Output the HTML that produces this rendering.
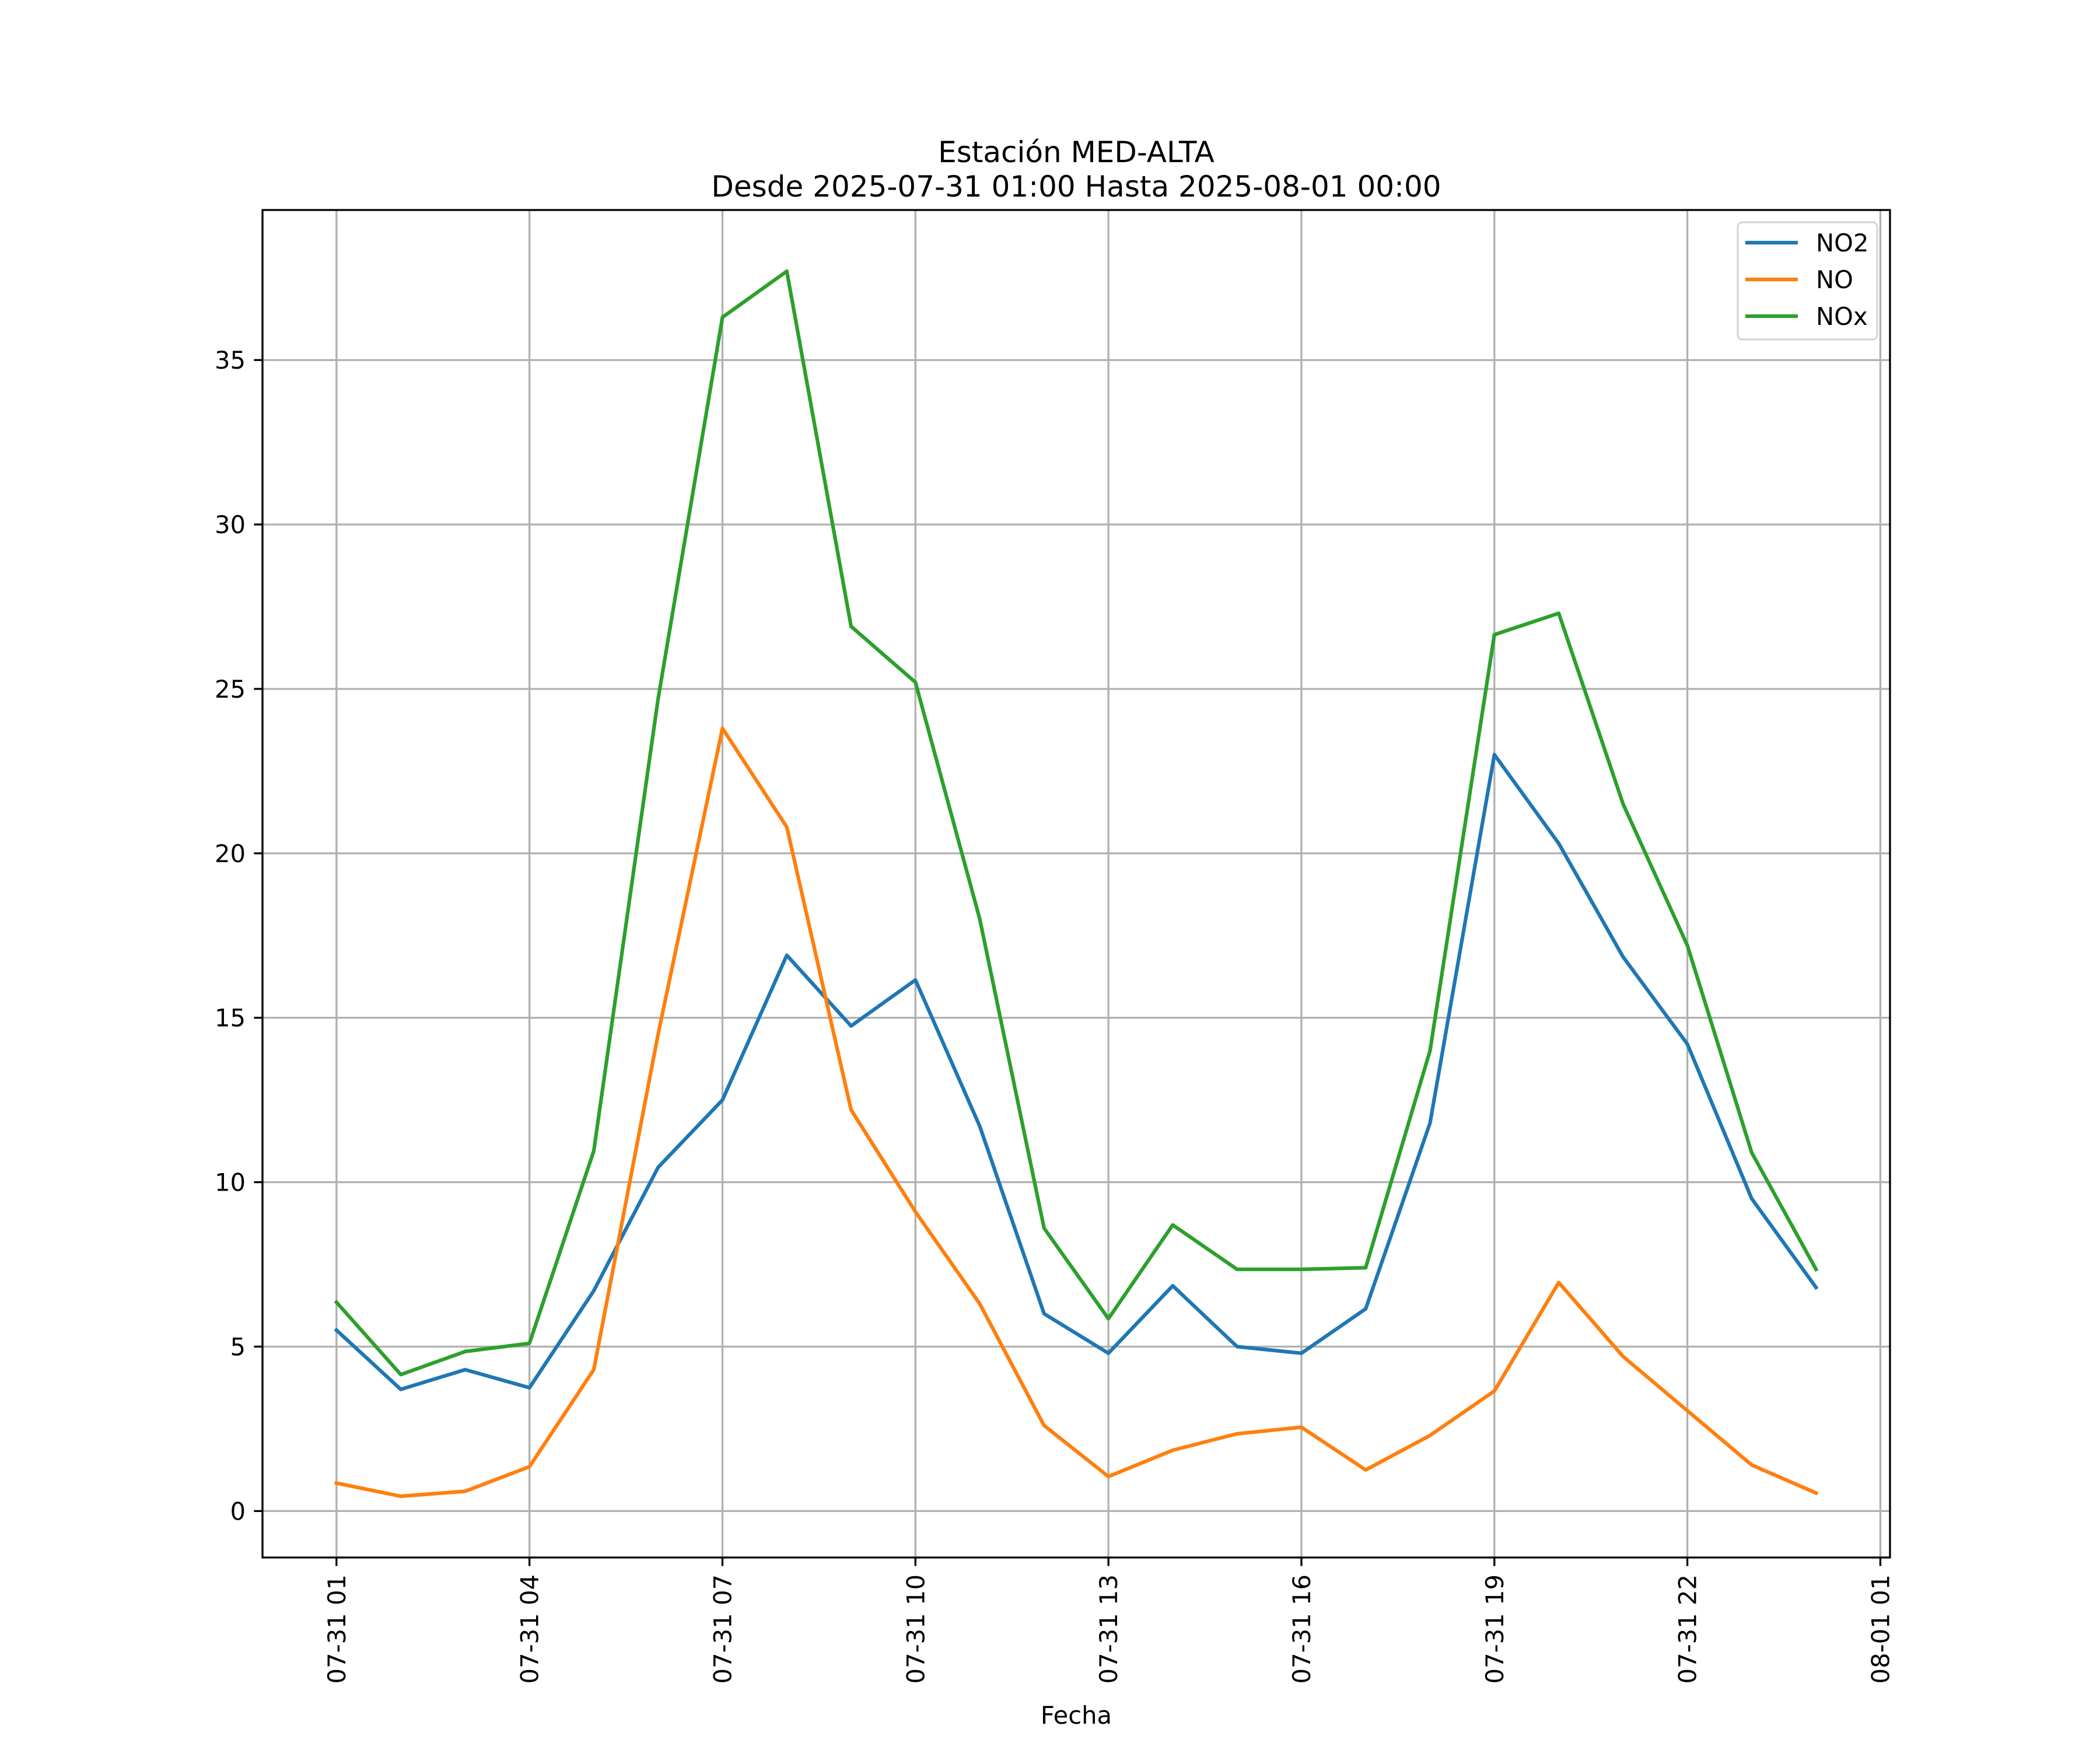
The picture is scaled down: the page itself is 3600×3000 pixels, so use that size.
<!DOCTYPE html>
<html><head><meta charset="utf-8"><style>
html,body{margin:0;padding:0;background:#fff}
svg{display:block;font-family:"DejaVu Sans","Liberation Sans",sans-serif}
</style></head><body>
<svg id="chart" width="3600" height="3000" viewBox="0 0 3600 3000">
<rect width="3600" height="3000" fill="#fff"/>
<g id="grid"></g><g id="series"></g><g id="axes"></g>
</svg>
<script>
const hours = [1,2,3,4,5,6,7,8,9,10,11,12,13,14,15,16,17,18,19,20,21,22,23,24];
const no2 = [5.5,3.7,4.3,3.75,6.7,10.45,12.5,16.9,14.75,16.15,11.7,6.0,4.8,6.85,5.0,4.8,6.15,11.8,23.0,20.3,16.85,14.2,9.5,6.8];
const no = [0.85,0.45,0.6,1.35,4.3,14.5,23.8,20.8,12.2,9.1,6.3,2.6,1.05,1.85,2.35,2.55,1.25,2.3,3.65,6.95,4.7,3.05,1.4,0.55];
const nox = [6.35,4.15,4.85,5.1,10.95,24.7,36.3,37.7,26.9,25.2,18.0,8.6,5.85,8.7,7.35,7.35,7.4,14.0,26.65,27.3,21.5,17.2,10.9,7.35];
const seriesNames = ["NO2","NO","NOx"];
const seriesColors = ["#1f77b4","#ff7f0e","#2ca02c"];
const xTickHours = [1,4,7,10,13,16,19,22,25];
const xTickLabels = ["07-31 01","07-31 04","07-31 07","07-31 10","07-31 13","07-31 16","07-31 19","07-31 22","08-01 01"];
const yTicks = [0,5,10,15,20,25,30,35];

const NS="http://www.w3.org/2000/svg";
const L=450,R=3240,T=360,B=2670;
const allV=no2.concat(no,nox);
const vmin=Math.min(...allV), vmax=Math.max(...allV), vr=vmax-vmin;
const y0=vmin-0.05*vr, y1=vmax+0.05*vr;
const hmin=Math.min(...hours), hmax=Math.max(...hours), hr=hmax-hmin;
const x0=hmin-0.05*hr, x1=hmax+0.05*hr;
const sx=h=>L+(h-x0)/(x1-x0)*(R-L);
const sy=v=>B-(v-y0)/(y1-y0)*(B-T);
function mk(tag,attrs,parent,text){const e=document.createElementNS(NS,tag);for(const k in attrs)e.setAttribute(k,attrs[k]);if(text!==undefined)e.textContent=text;parent.appendChild(e);return e;}
const grid=document.getElementById('grid'),ser=document.getElementById('series'),ax=document.getElementById('axes');

xTickHours.forEach((h,i)=>{
  const x=sx(h);
  const g=mk('line',{x1:x,x2:x,y1:T,y2:B,stroke:'#b0b0b0','stroke-width':3.3},grid);
  
  
  const t=mk('line',{x1:x,x2:x,y1:B,y2:B+14.6,stroke:'#000','stroke-width':3.3},ax);
  
  
  const lb=mk('text',{x:x+15,y:B+29,'font-size':41.7,'text-anchor':'end',transform:`rotate(-90 ${x+15} ${B+29})`},ax,xTickLabels[i]);
  
  
});
yTicks.forEach(v=>{
  const y=sy(v);
  const g=mk('line',{x1:L,x2:R,y1:y,y2:y,stroke:'#b0b0b0','stroke-width':3.3},grid);
  
  
  const t=mk('line',{x1:L-14.6,x2:L,y1:y,y2:y,stroke:'#000','stroke-width':3.3},ax);
  
  
  const lb=mk('text',{x:L-29,y:y+15,'font-size':41.7,'text-anchor':'end'},ax,String(v));
  
  
});
[no2,no,nox].forEach((arr,si)=>{
  const pts=arr.map((v,i)=>sx(hours[i]).toFixed(1)+','+sy(v).toFixed(1)).join(' ');
  const p=mk('polyline',{points:pts,fill:'none',stroke:seriesColors[si],'stroke-width':6.25,'stroke-linejoin':'round','stroke-linecap':'square'},ser);
  
  
});
const frame=mk('rect',{x:L,y:T,width:R-L,height:B-T,fill:'none',stroke:'#000','stroke-width':3.3},ax);


const t1=mk('text',{x:(L+R)/2,y:278,'font-size':50,'text-anchor':'middle'},ax,'Estación MED-ALTA');


const t2=mk('text',{x:(L+R)/2,y:337,'font-size':50,'text-anchor':'middle'},ax,'Desde 2025-07-31 01:00 Hasta 2025-08-01 00:00');


const xl=mk('text',{x:(L+R)/2,y:2955,'font-size':41.7,'text-anchor':'middle'},ax,'Fecha');


const lg=mk('g',{},ax);


const lbox=mk('rect',{x:2979,y:381,width:239,height:201,rx:8,fill:'#fff','fill-opacity':0.8,stroke:'#d6d6d6','stroke-width':3.3},lg);


seriesNames.forEach((n,i)=>{
  const y=416+i*63;
  const ln=mk('line',{x1:2992,x2:3082,y1:y,y2:y,stroke:seriesColors[i],'stroke-width':6.25},lg);
  
  
  const tx=mk('text',{x:3113,y:y+15,'font-size':41.7},lg,n);
  
  
});
</script>
</body></html>
